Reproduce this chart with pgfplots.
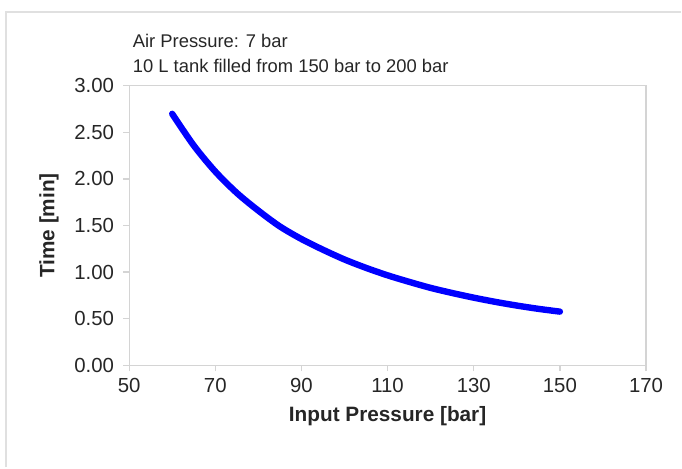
\documentclass[border=0pt]{standalone}
\usepackage{pgfplots}
\pgfplotsset{compat=1.18}
\usepackage{fontspec}
\setmainfont{Liberation Sans}
\definecolor{framegray}{HTML}{E0E0E0}
\definecolor{axisgray}{HTML}{D4D4D4}
\definecolor{curveblue}{HTML}{0000FF}

\pgfplotstableread{
p t
60 2.70
65 2.36
70 2.08
75 1.85
80 1.66
85 1.49
90 1.355
95 1.24
100 1.135
105 1.045
110 0.965
115 0.895
120 0.83
125 0.775
130 0.725
135 0.68
140 0.64
145 0.605
150 0.575
}\timedata

\begin{document}
\begin{tikzpicture}
  % picture size and outer chart frame
  \path (0,0) rectangle (341pt,234pt);
  \draw[framegray, line width=1pt] (3.25pt,0pt) -- (3.25pt,228pt) -- (341pt,228pt);
  \begin{axis}[
    at={(64.65pt,51.15pt)}, anchor=south west,
    scale only axis,
    width=258.85pt, height=139.85pt,
    xmin=50, xmax=170, ymin=0, ymax=3,
    xtick={50,70,...,170},
    ytick={0,0.5,...,3},
    axis line style={axisgray, line width=0.6pt},
    tick style={axisgray, line width=0.6pt},
    tick align=outside,
    major tick length=3pt,
    xtick pos=bottom, ytick pos=left,
    /pgf/number format/assume math mode=true,
    yticklabel style={/pgf/number format/fixed, /pgf/number format/fixed zerofill, /pgf/number format/precision=2, xshift=-1pt},
    ticklabel style={font=\fontsize{10.2}{12}\selectfont, text=black!85},
    xlabel={\bfseries Input Pressure [bar]},
    ylabel={\bfseries Time [min]},
    label style={font=\fontsize{10.4}{12}\selectfont, text=black!85},
    xlabel style={yshift=0pt},
    ylabel style={yshift=1pt},
    clip=false,
  ]
    \addplot[curveblue, line width=3.2pt, line cap=round, smooth, tension=0.5] table[x=p, y=t] {\timedata};
  \end{axis}
  \node[anchor=west, font=\fontsize{9.2}{11}\selectfont, text=black!85, align=left]
    at (63pt,213.5pt) {Air Pressure: 7 bar};
  \node[anchor=west, font=\fontsize{9.2}{11}\selectfont, text=black!85, align=left]
    at (63pt,201pt) {10 L tank filled from 150 bar to 200 bar};
\end{tikzpicture}
\end{document}
